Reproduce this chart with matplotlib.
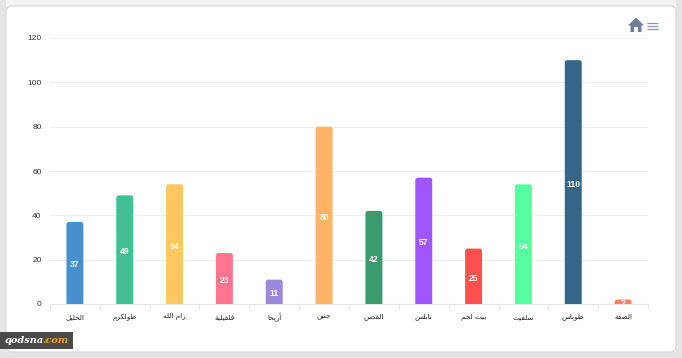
import matplotlib
matplotlib.use('Agg')
import matplotlib.pyplot as plt
from matplotlib.patches import FancyBboxPatch, Polygon, Rectangle

categories = ['الخليل', 'طولكرم', 'رام الله', 'قلقيلية', 'أريحا', 'جنين',
              'القدس', 'نابلس', 'بيت لحم', 'سلفيت', 'طوباس', 'الضفة']
values = [37, 49, 54, 23, 11, 80, 42, 57, 25, 54, 110, 2]
colors = ['#4690CF', '#43BF93', '#FFC75F', '#FF7590', '#9C89DB', '#FFB366',
          '#3B9A6E', '#A055FF', '#FF5050', '#55FF9F', '#356688', '#FF7F66']
y_ticks = [0, 20, 40, 60, 80, 100, 120]

W, H = 682, 358

# matplotlib does no arabic shaping, so pick the presentation forms by hand
# letter: (isolated, final, initial, medial), right-joining letters only have two
FORMS = {
    'ا': (0xFE8D, 0xFE8E), 'أ': (0xFE83, 0xFE84), 'د': (0xFEA9, 0xFEAA),
    'ر': (0xFEAD, 0xFEAE), 'و': (0xFEED, 0xFEEE), 'ة': (0xFE93, 0xFE94),
}
for ch, base in {'ب': 0xFE8F, 'ت': 0xFE95, 'ج': 0xFE9D, 'ح': 0xFEA1, 'خ': 0xFEA5,
                 'س': 0xFEB1, 'ض': 0xFEBD, 'ط': 0xFEC1, 'ف': 0xFED1, 'ق': 0xFED5,
                 'ك': 0xFED9, 'ل': 0xFEDD, 'م': 0xFEE1, 'ن': 0xFEE5, 'ه': 0xFEE9,
                 'ي': 0xFEF1}.items():
    FORMS[ch] = (base, base + 1, base + 2, base + 3)


def shape(word):
    out = []
    for i, ch in enumerate(word):
        if ch not in FORMS:
            out.append(ch)
            continue
        prev = word[i - 1] if i > 0 else ' '
        nxt = word[i + 1] if i < len(word) - 1 else ' '
        joins_prev = prev in FORMS and len(FORMS[prev]) == 4
        joins_next = nxt in FORMS and len(FORMS[ch]) == 4
        if joins_prev and joins_next:
            form = 3
        elif joins_next:
            form = 2
        elif joins_prev:
            form = 1
        else:
            form = 0
        out.append(chr(FORMS[ch][form]))
    return ''.join(out)[::-1]


fig = plt.figure(figsize=(W / 100, H / 100), dpi=100, facecolor='#f3f3f3')

# page pixels, y going down
page = fig.add_axes([0, 0, 1, 1], zorder=0)
page.set_xlim(0, W)
page.set_ylim(H, 0)
page.axis('off')
page.add_patch(Rectangle((0, 0), 6, H, fc='#e6e6e6', ec='none'))
page.add_patch(Rectangle((676, 0), 6, H, fc='#e6e6e6', ec='none'))
page.add_patch(Rectangle((0, 352), W, 6, fc='#e4e4e4', ec='none'))
page.add_patch(FancyBboxPatch((6, 6), 670, 346, boxstyle='round,pad=0,rounding_size=6',
                              fc='white', ec='#d6d6d6', lw=0.8))

ax = fig.add_axes([50 / W, 1 - 304 / H, 598 / W, 266 / H], zorder=1)
ax.patch.set_alpha(0)
ax.set_xlim(-0.5, 11.5)
ax.set_ylim(0, 120)

aspect = (598 / 12) / (266 / 120)
bar_w = 0.34
for i, (v, c) in enumerate(zip(values, colors)):
    # box starts below zero, the axes clip away the lower rounded corners
    ax.add_patch(FancyBboxPatch((i - bar_w / 2, -5), bar_w, v + 5,
                                boxstyle='round,pad=0,rounding_size=0.05',
                                mutation_aspect=aspect, fc=c, ec='none', zorder=3))
    ax.annotate(str(v), (i, v / 2), xytext=(0, -2), textcoords='offset pixels', color='white',
                ha='center', va='center', fontsize=6.2, fontweight='bold',
                family='Liberation Sans', zorder=4)

ax.set_yticks(y_ticks)
ax.set_yticklabels([str(t) for t in y_ticks], family='Liberation Sans', fontsize=6, color='#333333')
ax.tick_params(axis='y', length=0, pad=6)
ax.grid(axis='y', color='#eeeeee', lw=0.8, zorder=0)
ax.set_axisbelow(True)

ax.set_xticks([i - 0.5 for i in range(13)])
ax.set_xticklabels([])
ax.tick_params(axis='x', length=3.5, width=0.7, color='#e3e3ea')
for i, name in enumerate(categories):
    ax.annotate(shape(name), (i, 0), xycoords=('data', 'data'), xytext=(0, -13),
                textcoords='offset pixels', ha='center', va='center', fontsize=5.2,
                family='DejaVu Sans', color='#222222', annotation_clip=False)

for side in ['top', 'left', 'right']:
    ax.spines[side].set_visible(False)
ax.spines['bottom'].set_color('#e3e3ea')
ax.spines['bottom'].set_linewidth(0.8)

# overlay for toolbar and watermark
top = fig.add_axes([0, 0, 1, 1], zorder=2)
top.patch.set_alpha(0)
top.set_xlim(0, W)
top.set_ylim(H, 0)
top.axis('off')
icon = '#6b7f98'
top.add_patch(Polygon([(628, 25.5), (636, 17.5), (644, 25.5), (641.5, 25.5), (641.5, 32), (638, 32),
                       (638, 27), (634, 27), (634, 32), (630.5, 32), (630.5, 25.5)],
                      fc=icon, ec='none'))
for y in (23, 26, 29):
    top.plot([647, 657.5], [y, y], color='#8a97a8', lw=0.9, solid_capstyle='butt')

top.add_patch(Rectangle((0, 332), 73, 17, fc='#4a4a4a', ec='none'))
wm = dict(fontsize=7, family='DejaVu Serif', fontweight='bold', style='italic', va='center')
top.text(5, 340.5, 'qodsna', color='white', ha='left', **wm)
top.text(42.5, 340.5, '.com', color='#f0a020', ha='left', **wm)

fig.savefig('out.png', dpi=100, facecolor=fig.get_facecolor())
